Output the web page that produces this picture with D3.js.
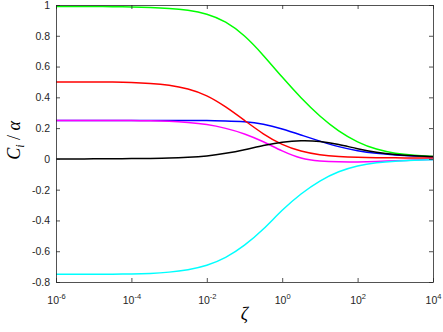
<!DOCTYPE html>
<html>
<head>
<meta charset="utf-8">
<script src="https://cdn.jsdelivr.net/npm/d3@7"></script>
<style>
  body { margin: 0; background: #fff; }
  svg { display: block; }
</style>
</head>
<body>
<div id="graph"></div>
<script>
// zeta sample points (half decades from 1e-6 to 1e4)
const zeta = [1e-6, 3.16e-6, 1e-5, 3.16e-5, 1e-4, 3.16e-4, 1e-3, 3.16e-3, 1e-2, 3.16e-2,
    1e-1, 3.16e-1, 1, 3.16, 10, 31.6, 100, 316, 1000, 3160, 1e4];

const green = [0.99, 0.99, 0.99, 0.989, 0.988, 0.985, 0.979, 0.967, 0.945, 0.895, 0.805, 0.675, 0.53, 0.395, 0.275, 0.178, 0.107, 0.06, 0.035, 0.023, 0.016];
const red = [0.5, 0.5, 0.5, 0.499, 0.497, 0.491, 0.48, 0.457, 0.415, 0.34, 0.25, 0.16, 0.09, 0.048, 0.025, 0.015, 0.01, 0.008, 0.007, 0.006, 0.005];
const blue = [0.25, 0.25, 0.25, 0.25, 0.25, 0.25, 0.25, 0.25, 0.249, 0.247, 0.243, 0.228, 0.195, 0.155, 0.115, 0.078, 0.052, 0.035, 0.025, 0.018, 0.013];
const magenta = [0.25, 0.25, 0.25, 0.25, 0.249, 0.248, 0.245, 0.237, 0.225, 0.2, 0.165, 0.113, 0.05, 0.0, -0.015, -0.02, -0.02, -0.017, -0.012, -0.008, -0.004];
const black = [0, 0, 0, 0.001, 0.002, 0.003, 0.005, 0.01, 0.018, 0.035, 0.058, 0.088, 0.11, 0.121, 0.116, 0.095, 0.065, 0.042, 0.028, 0.02, 0.015];
const cyan = [-0.75, -0.75, -0.75, -0.749, -0.748, -0.745, -0.737, -0.722, -0.695, -0.645, -0.565, -0.46, -0.33, -0.225, -0.14, -0.08, -0.043, -0.024, -0.014, -0.009, -0.005];

const xTicks = [1e-6, 1e-4, 1e-2, 1, 1e2, 1e4];
const xTickExp = ['-6', '-4', '-2', '0', '2', '4'];
const yTicks = [-0.8, -0.6, -0.4, -0.2, 0, 0.2, 0.4, 0.6, 0.8, 1];

const series = [
    {values: blue, color: '#0000ff'},
    {values: green, color: '#00ff00'},
    {values: red, color: '#ff0000'},
    {values: magenta, color: '#ff00ff'},
    {values: black, color: '#000000'},
    {values: cyan, color: '#00ffff'}
];

let width = 443, height = 332;
let margin = {left: 56, right: 10, top: 5, bottom: 50};

let svg = d3.select('#graph').append('svg')
    .attr('width', width)
    .attr('height', height);

let x = d3.scaleLog().domain([1e-6, 1e4]).range([margin.left, width - margin.right]);
let y = d3.scaleLinear().domain([-0.8, 1]).range([height - margin.bottom, margin.top]);

const axisColor = '#262626';
const tickLen = 4;
const tickFont = '"Liberation Sans", Arial, sans-serif';

// curves
let line = d3.line()
    .x((d, i) => x(zeta[i]))
    .y(d => y(d))
    .curve(d3.curveBasis);

svg.append('g')
    .selectAll('path')
    .data(series)
    .enter()
    .append('path')
    .attr('d', d => line(d.values))
    .attr('fill', 'none')
    .attr('stroke', d => d.color)
    .attr('stroke-width', 1.5);

// bottom axis
let xAxis = svg.append('g')
    .attr('transform', 'translate(0,' + y(-0.8) + ')')
    .call(d3.axisBottom(x).tickValues(xTicks).tickSizeInner(-tickLen).tickSizeOuter(0).tickFormat(''));

xAxis.selectAll('.tick text').remove();
xAxis.selectAll('.tick').each(function (d, i) {
    let t = d3.select(this).append('text')
        .attr('y', 22)
        .attr('text-anchor', 'middle')
        .attr('fill', axisColor)
        .style('font-family', tickFont)
        .style('font-size', '10.5px');
    t.append('tspan').text('10');
    t.append('tspan').attr('dy', -5).style('font-size', '7.5px').text(xTickExp[i]);
});

// top axis
svg.append('g')
    .attr('transform', 'translate(0,' + y(1) + ')')
    .call(d3.axisTop(x).tickValues(xTicks).tickSizeInner(-tickLen).tickSizeOuter(0).tickFormat(''));

// left axis
svg.append('g')
    .attr('transform', 'translate(' + x(1e-6) + ',0)')
    .call(d3.axisLeft(y).tickValues(yTicks).tickSizeInner(-tickLen).tickSizeOuter(0)
        .tickFormat(d => d === 0 ? '0' : String(+d.toFixed(1))))
    .selectAll('text')
    .attr('x', -6)
    .style('font-family', tickFont)
    .style('font-size', '10.5px');

// right axis
svg.append('g')
    .attr('transform', 'translate(' + x(1e4) + ',0)')
    .call(d3.axisRight(y).tickValues(yTicks).tickSizeInner(-tickLen).tickSizeOuter(0).tickFormat(''));

svg.selectAll('.domain, .tick line').attr('stroke', axisColor).attr('stroke-width', 0.8);
svg.selectAll('.tick text').attr('fill', axisColor);

// axis labels
let yLabel = svg.append('text')
    .attr('transform', 'translate(20,' + y(0.12) + ') rotate(-90)')
    .attr('text-anchor', 'middle')
    .style('font-family', '"Liberation Serif", "DejaVu Serif", serif')
    .style('font-size', '18px')
    .style('font-style', 'italic')
    .attr('fill', '#000');
yLabel.append('tspan').text('C');
yLabel.append('tspan').attr('dy', 4).style('font-size', '12px').text('i');
yLabel.append('tspan').attr('dy', -4).style('font-style', 'normal').text(' / ');
yLabel.append('tspan').text('α');

svg.append('text')
    .attr('x', (x(1e-6) + x(1e4)) / 2)
    .attr('y', 320)
    .attr('text-anchor', 'middle')
    .style('font-family', '"Liberation Serif", "DejaVu Serif", serif')
    .style('font-size', '18px')
    .style('font-style', 'italic')
    .attr('fill', '#000')
    .text('ζ');
</script>
</body>
</html>
